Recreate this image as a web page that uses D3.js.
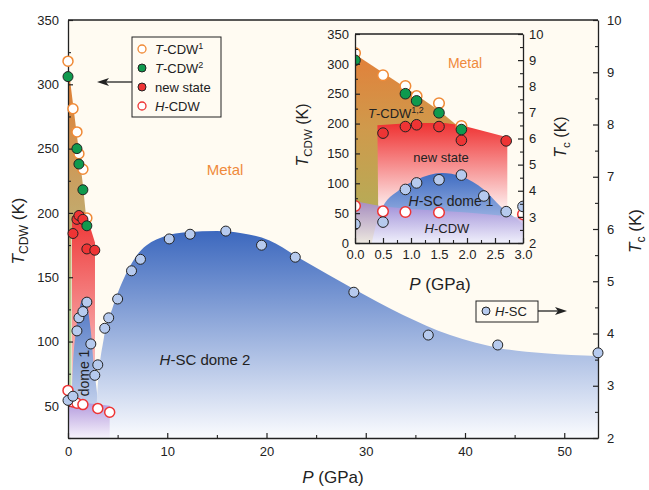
<!DOCTYPE html>
<html>
<head>
<meta charset="utf-8">
<script src="https://cdn.jsdelivr.net/npm/d3@7"></script>
<style>
  body { margin: 0; background: #fff; }
  svg { font-family: Arial, "Liberation Sans", sans-serif; }
</style>
</head>
<body>
<div id="chart"></div>
<script>
// measured points
const tcdw1P = [0, 0.5, 0.9, 1.1, 1.5, 1.9];
const tcdw1T = [318, 281, 263, 246, 234, 196];
const tcdw2P = [0, 0.9, 1.1, 1.5, 1.9];
const tcdw2T = [306, 250, 238, 218, 190];
const newP = [0.5, 0.9, 1.1, 1.5, 1.9, 2.7];
const newT = [184, 195, 198, 195, 172, 171];
const hcdwP = [0, 0.5, 0.9, 1.5, 3.0, 4.2];
const hcdwT = [62, 53, 52, 51, 48, 45];
const hscP = [0, 0.5, 0.9, 1.1, 1.5, 1.9, 2.3, 2.7, 3.0, 3.7, 4.1, 5.0, 6.4, 7.3, 10.2, 12.3, 15.9, 19.5, 22.9, 28.8, 36.3, 43.3, 53.4];
const hscTc = [2.72, 2.8, 4.05, 4.3, 4.42, 4.6, 3.8, 3.2, 3.4, 4.1, 4.3, 4.66, 5.2, 5.42, 5.81, 5.9, 5.96, 5.69, 5.46, 4.79, 3.97, 3.78, 3.63];

// phase boundaries (P, T) or (P, Tc)
const tcdwEdge = [[0, 316], [0.5, 285], [1.0, 254], [1.5, 222], [1.9, 191]];
const newStateTop = [[0.4, 197], [1.0, 201], [1.6, 201], [1.9, 197], [2.72, 177]];
const dome1Edge = [[0.3, 2.0], [0.45, 3.2], [0.8, 4.05], [1.1, 4.42], [1.55, 4.68], [1.9, 4.55], [2.3, 4.05], [2.6, 3.4], [2.9, 2.9], [3.2, 2.4], [3.5, 2.0]];
const dome2Edge = [[2.7, 2.0], [3.0, 3.0], [3.6, 3.9], [4.5, 4.5], [5.5, 5.0], [6.8, 5.46], [8.9, 5.8], [12, 5.94], [15, 5.96], [17.5, 5.92], [20.3, 5.78], [23.6, 5.41], [28.7, 4.86], [33.7, 4.36], [38.5, 3.97], [43.5, 3.72], [48, 3.62], [53.4, 3.57]];
const hcdwTopMain = [[0, 54], [2, 52], [4.2, 50]];
const hcdwTopInset = [[0, 70], [0.5, 61], [1, 57], [1.5, 54], [2, 51], [2.5, 47], [3, 42]];

const xMainTicks = [0, 10, 20, 30, 40, 50];
const tMainTicks = [50, 100, 150, 200, 250, 300, 350];
const tcTicks = [2, 3, 4, 5, 6, 7, 8, 9, 10];
const xInsetTicks = [0, 0.5, 1, 1.5, 2, 2.5, 3];
const tInsetTicks = [0, 50, 100, 150, 200, 250, 300, 350];

const W = 649, H = 490;
const svg = d3.select("#chart").append("svg").attr("width", W).attr("height", H);
const defs = svg.append("defs");

function grad(id, y1, y2, stops) {
    let g = defs.append("linearGradient").attr("id", id)
        .attr("gradientUnits", "userSpaceOnUse")
        .attr("x1", 0).attr("x2", 0).attr("y1", y1).attr("y2", y2);
    stops.forEach(s => g.append("stop").attr("offset", s[0]).attr("stop-color", s[1]));
}

const bg = "#fffbf2";
const ink = "#222";

// main scales
const M = { l: 68, r: 598, t: 20, b: 438 };
const x = d3.scaleLinear().domain([0, 53.4]).range([M.l, M.r]);
const yT = d3.scaleLinear().domain([25, 350]).range([M.b, M.t]);
const yC = d3.scaleLinear().domain([2, 10]).range([M.b, M.t]);

// inset scales
const I = { l: 355, r: 523, t: 34, b: 243 };
const xi = d3.scaleLinear().domain([0, 3]).range([I.l, I.r]);
const yTi = d3.scaleLinear().domain([0, 350]).range([I.b, I.t]);
const yCi = d3.scaleLinear().domain([2, 10]).range([I.b, I.t]);

grad("gT", yT(318), yT(55), [[0, "#e4792c"], [0.4, "#c6a466"], [0.78, "#b2d092"], [1, "#c8e4b4"]]);
grad("gTi", yTi(316), yTi(65), [[0, "#e2803a"], [0.5, "#cf9a4c"], [1, "#b8aa56"]]);
grad("gR", yT(200), yT(40), [[0, "#ee3434"], [1, "#fdeaea"]]);
grad("gRi", yTi(200), yTi(65), [[0, "#ef3232"], [1, "#fde4e4"]]);
grad("gD2", yC(5.96), yC(2), [[0, "#3c68be"], [1, "#fafbfe"]]);
grad("gD1", yC(4.68), yC(2), [[0, "#4a72c2"], [1, "#e6ecf8"]]);
grad("gD1i", yCi(4.68), yCi(2), [[0, "#3f6cc2"], [1, "#c9d5f2"]]);
grad("gP", yT(54), yT(25), [[0, "#b096dc"], [1, "#f6f2fb"]]);
grad("gPi", yTi(70), yTi(0), [[0, "#a286d6"], [1, "#f8f5fd"]]);

defs.append("clipPath").attr("id", "clipM").append("rect")
    .attr("x", M.l).attr("y", M.t).attr("width", M.r - M.l).attr("height", M.b - M.t);
defs.append("clipPath").attr("id", "clipI").append("rect")
    .attr("x", I.l).attr("y", I.t).attr("width", I.r - I.l).attr("height", I.b - I.t);

// ---------- main panel ----------
svg.append("rect").attr("x", M.l).attr("y", M.t).attr("width", M.r - M.l).attr("height", M.b - M.t).attr("fill", bg);

let gm = svg.append("g").attr("clip-path", "url(#clipM)");
let lineM = d3.line().x(d => x(d[0])).y(d => yT(d[1]));

gm.append("path")
    .attr("d", lineM(tcdwEdge.concat([[1.9, 185], [0.35, 185], [0.35, 50], [0, 50]])) + "Z")
    .attr("fill", "url(#gT)");
gm.append("path")
    .attr("d", lineM(newStateTop.concat([[2.72, 25], [0.4, 25]])) + "Z")
    .attr("fill", "url(#gR)");

let domeM = d3.area().x(d => x(d[0])).y0(yC(2)).y1(d => yC(d[1])).curve(d3.curveMonotoneX);
gm.append("path").attr("d", domeM(dome1Edge)).attr("fill", "url(#gD1)");
gm.append("path").attr("d", domeM(dome2Edge)).attr("fill", "url(#gD2)");
gm.append("path")
    .attr("d", lineM(hcdwTopMain.concat([[4.2, 25], [0, 25]])) + "Z")
    .attr("fill", "url(#gP)");

function styleAxis(sel, size) {
    sel.selectAll("path.domain").attr("stroke", ink).attr("stroke-width", 1.3);
    sel.selectAll("line").attr("stroke", ink).attr("stroke-width", 1.2);
    sel.selectAll("text").attr("font-size", size || 13).attr("fill", ink)
        .attr("font-family", "Arial, 'Liberation Sans', sans-serif");
}
function minor(sel) { sel.select("path.domain").remove(); sel.selectAll("line").attr("stroke", ink).attr("stroke-width", 1.1); }

svg.append("g").attr("transform", `translate(0,${M.b})`)
    .call(d3.axisBottom(x).tickValues(d3.range(5, 55, 10)).tickSize(-3).tickFormat("")).call(minor);
svg.append("g").attr("transform", `translate(${M.l},0)`)
    .call(d3.axisLeft(yT).tickValues(d3.range(75, 350, 50).concat([25])).tickSize(-3).tickFormat("")).call(minor);
svg.append("g").attr("transform", `translate(${M.r},0)`)
    .call(d3.axisRight(yC).tickValues(d3.range(2.5, 10, 1)).tickSize(-3).tickFormat("")).call(minor);

svg.append("g").attr("transform", `translate(0,${M.b})`)
    .call(d3.axisBottom(x).tickValues(xMainTicks).tickSize(-5).tickSizeOuter(0).tickPadding(9))
    .call(styleAxis);
svg.append("g").attr("transform", `translate(${M.l},0)`)
    .call(d3.axisLeft(yT).tickValues(tMainTicks).tickSize(-5).tickSizeOuter(0).tickPadding(9))
    .call(styleAxis);
svg.append("g").attr("transform", `translate(${M.r},0)`)
    .call(d3.axisRight(yC).tickValues(tcTicks).tickSize(-5).tickSizeOuter(0).tickPadding(9))
    .call(styleAxis);
svg.append("line").attr("x1", M.l).attr("x2", M.r).attr("y1", M.t).attr("y2", M.t)
    .attr("stroke", ink).attr("stroke-width", 1.3);

// titles
function tcdwTitle(g, tx, ty, fs) {
    let t = g.append("text").attr("transform", `translate(${tx},${ty}) rotate(-90)`)
        .attr("text-anchor", "middle").attr("font-size", fs).attr("fill", ink);
    t.append("tspan").attr("font-style", "italic").text("T");
    t.append("tspan").attr("font-size", fs * 0.72).attr("dy", fs * 0.25).text("CDW");
    t.append("tspan").attr("dy", -fs * 0.25).text(" (K)");
}
function tcTitle(g, tx, ty, fs) {
    let t = g.append("text").attr("transform", `translate(${tx},${ty}) rotate(-90)`)
        .attr("text-anchor", "middle").attr("font-size", fs).attr("fill", ink);
    t.append("tspan").attr("font-style", "italic").text("T");
    t.append("tspan").attr("font-size", fs * 0.72).attr("dy", fs * 0.25).text("c");
    t.append("tspan").attr("dy", -fs * 0.25).text(" (K)");
}
function pTitle(g, tx, ty, fs) {
    let t = g.append("text").attr("x", tx).attr("y", ty).attr("text-anchor", "middle")
        .attr("font-size", fs).attr("fill", ink);
    t.append("tspan").attr("font-style", "italic").text("P");
    t.append("tspan").text(" (GPa)");
}
tcdwTitle(svg, 24, 231, 17);
tcTitle(svg, 641, 231, 17);
pTitle(svg, 333, 483, 17);

svg.append("text").attr("x", 225).attr("y", 175).attr("text-anchor", "middle")
    .attr("font-size", 15).attr("fill", "#ef8a3c").text("Metal");
let d2 = svg.append("text").attr("x", 205).attr("y", 365).attr("text-anchor", "middle")
    .attr("font-size", 15).attr("fill", ink);
d2.append("tspan").attr("font-style", "italic").text("H");
d2.append("tspan").text("-SC dome 2");
svg.append("text").attr("transform", "translate(89,373) rotate(-90)").attr("text-anchor", "middle")
    .attr("font-size", 14).attr("fill", ink).text("dome 1");

// points
function drawPoints(g, xs, ys, P, V, r, fill, stroke, sw) {
    g.selectAll(null).data(d3.zip(P, V)).enter().append("circle")
        .attr("cx", d => xs(d[0])).attr("cy", d => ys(d[1])).attr("r", r)
        .attr("fill", fill).attr("stroke", stroke).attr("stroke-width", sw);
}
const cOrange = "#f08a36", cRed = "#ee3434", cGreen = "#0f9a4e", cBlue = "#b6caee";
let pm = svg.append("g");
drawPoints(pm, x, yT, hcdwP, hcdwT, 5, "#fff", cRed, 1.5);
drawPoints(pm, x, yC, hscP, hscTc, 5, cBlue, ink, 1);
drawPoints(pm, x, yT, tcdw1P, tcdw1T, 5, "#fff", cOrange, 1.5);
drawPoints(pm, x, yT, newP, newT, 5, cRed, ink, 1);
drawPoints(pm, x, yT, tcdw2P, tcdw2T, 5, cGreen, ink, 1);

// ---------- inset ----------
svg.append("rect").attr("x", I.l).attr("y", I.t).attr("width", I.r - I.l).attr("height", I.b - I.t).attr("fill", bg);
let gi = svg.append("g").attr("clip-path", "url(#clipI)");
let lineI = d3.line().x(d => xi(d[0])).y(d => yTi(d[1]));
gi.append("path").attr("d", lineI(tcdwEdge.concat([[1.9, 0], [0, 0]])) + "Z").attr("fill", "url(#gTi)");
gi.append("path").attr("d", lineI(newStateTop.concat([[2.72, 0], [0.42, 0]])) + "Z").attr("fill", "url(#gRi)");
let domeI = d3.area().x(d => xi(d[0])).y0(yCi(2)).y1(d => yCi(d[1])).curve(d3.curveMonotoneX);
gi.append("path").attr("d", domeI(dome1Edge)).attr("fill", "url(#gD1i)");
gi.append("path").attr("d", lineI(hcdwTopInset.concat([[3, 0], [0, 0]])) + "Z")
    .attr("fill", "url(#gPi)").attr("fill-opacity", 0.82);

gi.append("text").attr("x", 465).attr("y", 68).attr("text-anchor", "middle")
    .attr("font-size", 14).attr("fill", "#ef8a3c").text("Metal");
let tl = gi.append("text").attr("x", 368).attr("y", 118).attr("font-size", 13).attr("fill", ink);
tl.append("tspan").attr("font-style", "italic").text("T");
tl.append("tspan").text("-CDW");
tl.append("tspan").attr("font-size", 9).attr("dy", -5).text("1,2");
gi.append("text").attr("x", 441).attr("y", 162).attr("text-anchor", "middle")
    .attr("font-size", 13).attr("fill", ink).text("new state");
let d1 = gi.append("text").attr("x", 451).attr("y", 206).attr("text-anchor", "middle")
    .attr("font-size", 14).attr("fill", ink);
d1.append("tspan").attr("font-style", "italic").text("H");
d1.append("tspan").text("-SC dome 1");
let hc = gi.append("text").attr("x", 447).attr("y", 233).attr("text-anchor", "middle")
    .attr("font-size", 13).attr("fill", ink);
hc.append("tspan").attr("font-style", "italic").text("H");
hc.append("tspan").text("-CDW");

drawPoints(gi, xi, yTi, hcdwP, hcdwT, 5.3, "#fff", cRed, 1.5);
drawPoints(gi, xi, yCi, hscP, hscTc, 5.3, cBlue, ink, 1);
drawPoints(gi, xi, yTi, tcdw1P, tcdw1T, 5.3, "#fff", cOrange, 1.5);
drawPoints(gi, xi, yTi, newP, newT, 5.3, cRed, ink, 1);
drawPoints(gi, xi, yTi, tcdw2P, tcdw2T, 5.3, cGreen, ink, 1);

svg.append("g").attr("transform", `translate(0,${I.b})`)
    .call(d3.axisBottom(xi).tickValues(d3.range(0.25, 3, 0.5)).tickSize(-3).tickFormat("")).call(minor);
svg.append("g").attr("transform", `translate(${I.l},0)`)
    .call(d3.axisLeft(yTi).tickValues(d3.range(25, 350, 50)).tickSize(-3).tickFormat("")).call(minor);
svg.append("g").attr("transform", `translate(${I.r},0)`)
    .call(d3.axisRight(yCi).tickValues(d3.range(2.5, 10, 1)).tickSize(-3).tickFormat("")).call(minor);
svg.append("g").attr("transform", `translate(0,${I.b})`)
    .call(d3.axisBottom(xi).tickValues(xInsetTicks).tickSize(-5).tickSizeOuter(0).tickPadding(7).tickFormat(d3.format(".1f")))
    .call(styleAxis);
svg.append("g").attr("transform", `translate(${I.l},0)`)
    .call(d3.axisLeft(yTi).tickValues(tInsetTicks).tickSize(-5).tickSizeOuter(0).tickPadding(6))
    .call(styleAxis);
svg.append("g").attr("transform", `translate(${I.r},0)`)
    .call(d3.axisRight(yCi).tickValues(tcTicks).tickSize(-5).tickSizeOuter(0).tickPadding(6))
    .call(styleAxis);
svg.append("line").attr("x1", I.l).attr("x2", I.r).attr("y1", I.t).attr("y2", I.t)
    .attr("stroke", ink).attr("stroke-width", 1.3);

tcdwTitle(svg, 308, 135, 16);
tcTitle(svg, 566, 137, 16);
pTitle(svg, 440, 290, 17);

// ---------- legends ----------
let lg = svg.append("g");
lg.append("rect").attr("x", 132).attr("y", 37).attr("width", 89).attr("height", 80)
    .attr("fill", bg).attr("stroke", ink).attr("stroke-width", 1);
const legendItems = [
    { fill: "#fff", stroke: cOrange, sw: 1.3, parts: [["T", true], ["-CDW", false]], sup: "1" },
    { fill: cGreen, stroke: ink, sw: 1, parts: [["T", true], ["-CDW", false]], sup: "2" },
    { fill: cRed, stroke: ink, sw: 1, parts: [["new state", false]] },
    { fill: "#fff", stroke: cRed, sw: 1.3, parts: [["H", true], ["-CDW", false]] }
];
const legendY = [49, 68, 87, 106];
legendItems.forEach((it, i) => {
    lg.append("circle").attr("cx", 142).attr("cy", legendY[i]).attr("r", 4)
        .attr("fill", it.fill).attr("stroke", it.stroke).attr("stroke-width", it.sw);
    let t = lg.append("text").attr("x", 155).attr("y", legendY[i] + 5).attr("font-size", 13).attr("fill", ink);
    it.parts.forEach(p => t.append("tspan").attr("font-style", p[1] ? "italic" : "normal").text(p[0]));
    if (it.sup) t.append("tspan").attr("font-size", 9).attr("dy", -5).text(it.sup);
});
lg.append("line").attr("x1", 132).attr("x2", 104).attr("y1", 82).attr("y2", 82)
    .attr("stroke", ink).attr("stroke-width", 1.3);
lg.append("path").attr("d", "M97,82 L109,78 L106,82 L109,86 Z").attr("fill", ink);

let lg2 = svg.append("g");
lg2.append("rect").attr("x", 476).attr("y", 301).attr("width", 62).attr("height", 21)
    .attr("fill", bg).attr("stroke", ink).attr("stroke-width", 1);
lg2.append("circle").attr("cx", 486).attr("cy", 311).attr("r", 4)
    .attr("fill", cBlue).attr("stroke", ink).attr("stroke-width", 1);
let t2 = lg2.append("text").attr("x", 495).attr("y", 316).attr("font-size", 13).attr("fill", ink);
t2.append("tspan").attr("font-style", "italic").text("H");
t2.append("tspan").text("-SC");
lg2.append("line").attr("x1", 538).attr("x2", 560).attr("y1", 311).attr("y2", 311)
    .attr("stroke", ink).attr("stroke-width", 1.3);
lg2.append("path").attr("d", "M567,311 L555,307 L558,311 L555,315 Z").attr("fill", ink);
</script>
</body>
</html>
